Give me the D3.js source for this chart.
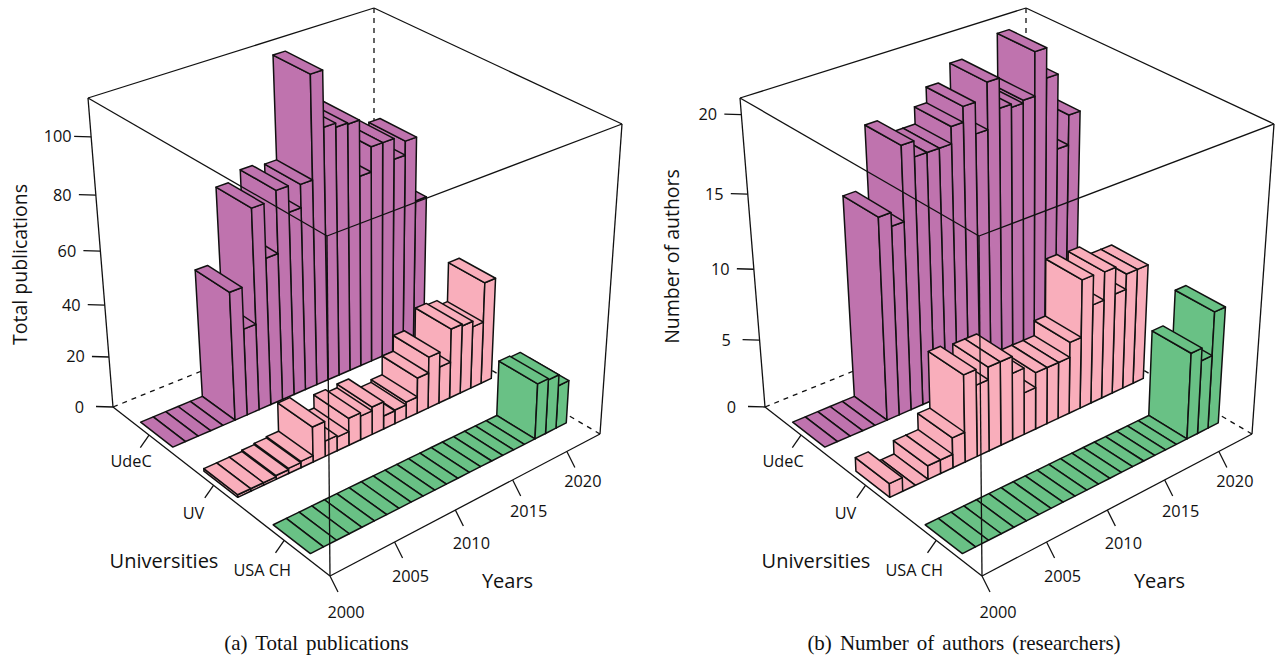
<!DOCTYPE html>
<html><head><meta charset="utf-8">
<script src="https://cdn.jsdelivr.net/npm/d3@7"></script>
<style>html,body{margin:0;padding:0;background:#fff}svg{display:block}</style>
</head><body><svg id="c" width="1278" height="655"></svg>
<script>
// ---- data ----
const universities = ["UdeC","UV","USA CH"];
const years = d3.range(2000,2022);
const yearTicks = [2000,2005,2010,2015,2020];
const pubTicks = [0,20,40,60,80,100];
const authorTicks = [0,5,10,15,20];
const pubUdeC = [0,0,0,0,0,49.5,33.8,76.5,56.8,79.6,70.2,78.6,115,95.6,94.2,93.8,73.8,82.9,82.9,75.4,80.5,56.8];
const pubUV   = [1,1,1,1.5,2,2.5,13.7,6,5.4,10.7,9.4,10.9,5.2,5.5,6.6,14.2,20.5,14.6,27.7,27,24.8,40.2];
const pubUSA  = [0,0,0,0,0,0,0,0,0,0,0,0,0,0,0,0,0,0,0,21.8,21.3,17];
const autUdeC = [0,0,0,0,0,14.3,13.4,18.3,17.3,17.3,17.3,18.4,19.4,17.4,20.4,18.5,18.3,18.5,21.3,19.4,14.5,16.5];
const autUV   = [1,0,0,1,1,2.2,6.3,5.2,6.1,6.1,4.9,3.1,4.2,4.2,4.2,5.3,9.4,7.3,9.3,7.4,8.5,8.5];
const autUSA  = [0,0,0,0,0,0,0,0,0,0,0,0,0,0,0,0,0,0,0,6.3,5.4,8.5];

const colors = {"UdeC":"#BF73AE","UV":"#F9AEBB","USA CH":"#69C185"};
const svg = d3.select("#c");
const INK = "#111";
const SANS = "'Open Sans',sans-serif";

// homography of the unit square; corners F(0,0) R(1,0) L(0,1) K(1,1)
function homography(F,R,L,K){
  const d1=[R[0]-K[0],R[1]-K[1]], d2=[L[0]-K[0],L[1]-K[1]];
  const s=[F[0]-R[0]+K[0]-L[0],F[1]-R[1]+K[1]-L[1]];
  const den=d1[0]*d2[1]-d2[0]*d1[1];
  const g=(s[0]*d2[1]-d2[0]*s[1])/den, h=(d1[0]*s[1]-s[0]*d1[1])/den;
  return (x,y)=>{
    const w=1+g*x+h*y;
    return [(F[0]+(R[0]-F[0]+g*R[0])*x+(L[0]-F[0]+h*L[0])*y)/w,
            (F[1]+(R[1]-F[1]+g*R[1])*x+(L[1]-F[1]+h*L[1])*y)/w];
  };
}

const xS = d3.scaleLinear().domain([2000,2023.2]).range([0,1]);
const yS = d3.scaleLinear().domain([0.4,3.6]).range([0,1]);   // USA CH =1, UV =2, UdeC =3

function chart(dx,series,zTicks,zMax,persp,zTitle,zTitleX,zTitleY,caption,captionX){
  const g = svg.append("g").attr("transform",`translate(${dx},0)`);
  const fb=[330,576], rb=[600,434], lb=[113,407], kb=[374,301];
  const ft=[327,236], rt=[622,124], lt=[88,98],  kt=[374,8];
  const B=homography(fb,rb,lb,kb), T=homography(ft,rt,lt,kt);
  const zS=d3.scaleLinear().domain([0,zMax]).range([0,1]);
  const fz=v=>{const t=zS(v);return t/(1+persp*(1-t));};
  const P=(x,y,z)=>{const b=B(x,y),t=T(x,y),f=fz(z);return [b[0]+(t[0]-b[0])*f,b[1]+(t[1]-b[1])*f];};
  const line=d3.line();
  const seg=(a,b,dash,w)=>g.append("line").attr("x1",a[0]).attr("y1",a[1]).attr("x2",b[0]).attr("y2",b[1])
      .attr("stroke",INK).attr("stroke-width",w||1.3).attr("stroke-dasharray",dash||null);
  const label=(x,y,t,size)=>g.append("text").attr("x",x).attr("y",y).attr("text-anchor","middle")
      .attr("font-family",SANS).attr("font-size",size||16.3).attr("fill",INK).text(t);

  // back of the box
  seg(kt,kb,"5 5"); seg(lb,kb,"5 5"); seg(rb,kb,"5 5");
  seg(lt,kt); seg(kt,rt);

  // bars, back to front
  universities.forEach((u,ui)=>{
    const cat=3-ui, vals=series[ui];
    const y0=yS(cat-(ui==0?0.295:0.275)), y1=yS(cat+0.225);
    const bars=years.map((yr,i)=>({yr,v:vals[i],x0:xS(yr+0.42),x1:xS(yr+1.42)})).reverse();
    const bg=g.append("g").attr("fill",colors[u]).attr("stroke",INK).attr("stroke-width",1.5).attr("stroke-linejoin","round");
    bars.forEach(b=>{
      const poly=pts=>bg.append("path").attr("d",line(pts)+"Z");
      if(b.v>0){
        poly([P(b.x0,y0,0),P(b.x0,y1,0),P(b.x0,y1,b.v),P(b.x0,y0,b.v)]);
        poly([P(b.x0,y0,0),P(b.x1,y0,0),P(b.x1,y0,b.v),P(b.x0,y0,b.v)]);
      }
      poly([P(b.x0,y0,b.v),P(b.x1,y0,b.v),P(b.x1,y1,b.v),P(b.x0,y1,b.v)]);
    });
  });

  // front of the box
  seg(lb,lt); seg(rb,rt); seg(lb,fb); seg(fb,rb);
  seg(lt,ft); seg(rt,ft); seg(ft,fb);

  // z axis
  zTicks.forEach(t=>{
    const p=P(0,1,t);
    seg(p,[p[0]-17,p[1]-0.5]);
    label(p[0]-33.5,p[1]+5.5,t);
  });
  // years axis
  yearTicks.forEach(t=>{
    const p=P(xS(t),0,0);
    seg(p,[p[0]+8,p[1]+16]);
    label(p[0]+16,p[1]+41.8-(t-2000)*0.33,t);
  });
  // universities axis
  universities.forEach((u,ui)=>{
    const p=P(0,yS(3-ui),0);
    seg(p,[p[0]-8.7,p[1]+12.5]);
    label(p[0]-(18+2*ui),p[1]+(31.8+2*ui),u);
  });
  // titles
  label(164,568,"Universities",20);
  label(507.5,588,"Years",20);
  g.append("text").attr("transform",`translate(${zTitleX},${zTitleY}) rotate(-90)`).attr("text-anchor","middle").attr("font-family",SANS).attr("font-size",19.5).attr("fill",INK).text(zTitle);
  g.append("text").attr("x",captionX).attr("y",650).attr("text-anchor","middle").attr("font-family","'Liberation Serif',serif").attr("font-size",21).attr("word-spacing",2.8).attr("fill",INK).text(caption);
}

chart(0,[pubUdeC,pubUV,pubUSA],pubTicks,112.9,0.115,"Total publications",26.5,264.5,"(a) Total publications",316.5);
chart(652,[autUdeC,autUV,autUSA],authorTicks,21,0.13,"Number of authors",26.5,256.5,"(b) Number of authors (researchers)",312);
</script></body></html>
